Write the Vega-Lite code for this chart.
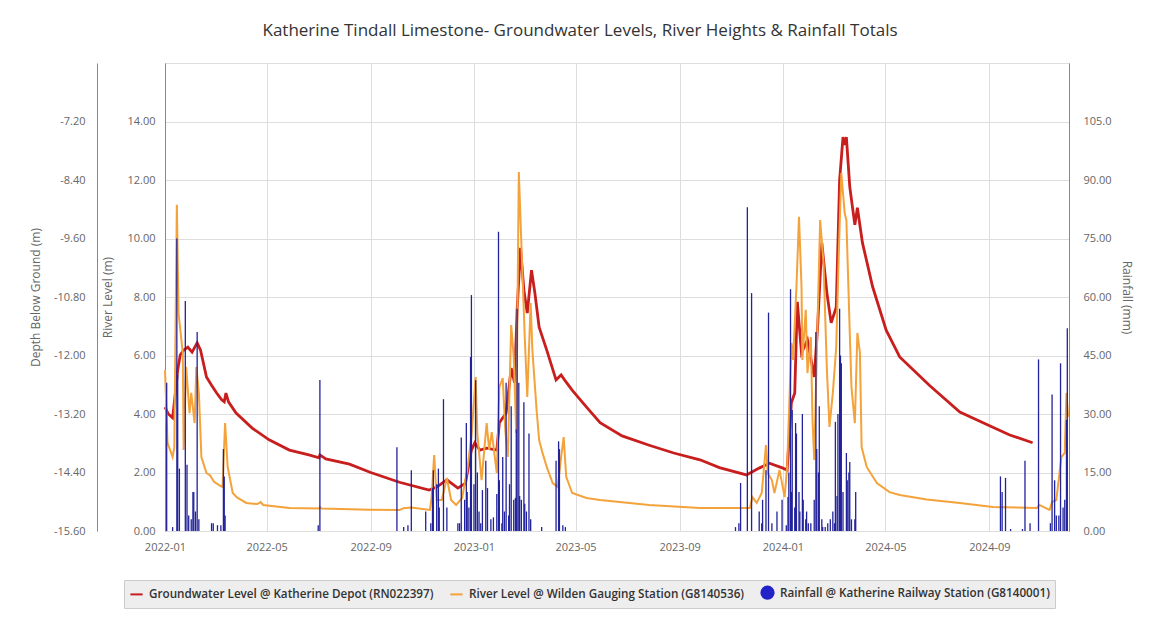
{
  "$schema": "https://vega.github.io/schema/vega-lite/v6.json",
  "width": 904,
  "height": 468,
  "autosize": {"type": "none"},
  "padding": {"left": 165, "top": 63, "right": 81, "bottom": 108},
  "background": "white",
  "title": {
    "text": "Katherine Tindall Limestone- Groundwater Levels, River Heights & Rainfall Totals",
    "font": "Open Sans", "fontSize": 17, "fontWeight": "normal", "color": "#333333",
    "anchor": "middle", "frame": "group", "dx": -37, "baseline": "bottom", "offset": 6
  },
  "config": {
    "font": "Open Sans",
    "view": {"stroke": "#dddddd"},
    "axis": {
      "labelFont": "Open Sans", "labelFontSize": 11, "labelColor": "#666666",
      "titleFont": "Open Sans", "titleFontSize": 12, "titleFontWeight": "normal", "titleColor": "#666666",
      "gridColor": "#dddddd", "domainColor": "#888888", "ticks": false, "tickSize": 0
    }
  },
  "datasets": {
    "groundwater": [
      {"date": "2022-01-01", "depth": -13.06}, {"date": "2022-01-05", "depth": -13.2}, {"date": "2022-01-10", "depth": -13.28},
      {"date": "2022-01-13", "depth": -12.81}, {"date": "2022-01-16", "depth": -12.3}, {"date": "2022-01-19", "depth": -11.99},
      {"date": "2022-01-23", "depth": -11.89}, {"date": "2022-01-28", "depth": -11.83}, {"date": "2022-02-02", "depth": -11.93},
      {"date": "2022-02-08", "depth": -11.74}, {"date": "2022-02-12", "depth": -11.89}, {"date": "2022-02-19", "depth": -12.44},
      {"date": "2022-02-25", "depth": -12.61}, {"date": "2022-03-03", "depth": -12.77}, {"date": "2022-03-09", "depth": -12.91},
      {"date": "2022-03-12", "depth": -12.95}, {"date": "2022-03-14", "depth": -12.77}, {"date": "2022-03-17", "depth": -12.95},
      {"date": "2022-03-26", "depth": -13.18}, {"date": "2022-04-14", "depth": -13.49}, {"date": "2022-05-04", "depth": -13.73},
      {"date": "2022-05-28", "depth": -13.94}, {"date": "2022-06-20", "depth": -14.04}, {"date": "2022-07-02", "depth": -14.1},
      {"date": "2022-07-03", "depth": -14.04}, {"date": "2022-07-10", "depth": -14.12}, {"date": "2022-08-07", "depth": -14.23},
      {"date": "2022-09-01", "depth": -14.4}, {"date": "2022-10-05", "depth": -14.6}, {"date": "2022-11-09", "depth": -14.76},
      {"date": "2022-11-18", "depth": -14.7}, {"date": "2022-11-30", "depth": -14.55}, {"date": "2022-12-13", "depth": -14.72},
      {"date": "2022-12-22", "depth": -14.62}, {"date": "2022-12-29", "depth": -13.94}, {"date": "2023-01-02", "depth": -13.79},
      {"date": "2023-01-08", "depth": -13.94}, {"date": "2023-01-16", "depth": -13.9}, {"date": "2023-01-28", "depth": -13.94},
      {"date": "2023-01-31", "depth": -13.38}, {"date": "2023-02-08", "depth": -13.18}, {"date": "2023-02-14", "depth": -12.26},
      {"date": "2023-02-18", "depth": -12.56}, {"date": "2023-02-21", "depth": -11.07}, {"date": "2023-02-25", "depth": -9.79},
      {"date": "2023-03-01", "depth": -10.66}, {"date": "2023-03-05", "depth": -11.13}, {"date": "2023-03-10", "depth": -10.25},
      {"date": "2023-03-14", "depth": -10.72}, {"date": "2023-03-19", "depth": -11.42}, {"date": "2023-03-28", "depth": -11.89},
      {"date": "2023-04-08", "depth": -12.5}, {"date": "2023-04-14", "depth": -12.4}, {"date": "2023-04-18", "depth": -12.5},
      {"date": "2023-04-27", "depth": -12.71}, {"date": "2023-05-14", "depth": -13.06}, {"date": "2023-05-30", "depth": -13.38},
      {"date": "2023-06-25", "depth": -13.65}, {"date": "2023-07-27", "depth": -13.84}, {"date": "2023-08-25", "depth": -14.0},
      {"date": "2023-09-25", "depth": -14.14}, {"date": "2023-10-18", "depth": -14.3}, {"date": "2023-11-19", "depth": -14.45},
      {"date": "2023-12-04", "depth": -14.31}, {"date": "2023-12-16", "depth": -14.21}, {"date": "2024-01-01", "depth": -14.31},
      {"date": "2024-01-06", "depth": -14.35}, {"date": "2024-01-11", "depth": -12.97}, {"date": "2024-01-15", "depth": -12.77},
      {"date": "2024-01-18", "depth": -10.9}, {"date": "2024-01-23", "depth": -11.95}, {"date": "2024-01-30", "depth": -11.68},
      {"date": "2024-02-07", "depth": -12.44}, {"date": "2024-02-11", "depth": -11.42}, {"date": "2024-02-16", "depth": -9.69},
      {"date": "2024-02-22", "depth": -10.72}, {"date": "2024-02-27", "depth": -11.33}, {"date": "2024-03-04", "depth": -11.01},
      {"date": "2024-03-08", "depth": -8.4}, {"date": "2024-03-12", "depth": -7.52}, {"date": "2024-03-14", "depth": -7.68},
      {"date": "2024-03-16", "depth": -7.52}, {"date": "2024-03-20", "depth": -8.54}, {"date": "2024-03-26", "depth": -9.32},
      {"date": "2024-03-29", "depth": -8.97}, {"date": "2024-04-04", "depth": -9.69}, {"date": "2024-04-16", "depth": -10.59},
      {"date": "2024-05-02", "depth": -11.48}, {"date": "2024-05-18", "depth": -12.03}, {"date": "2024-06-22", "depth": -12.61},
      {"date": "2024-07-28", "depth": -13.16}, {"date": "2024-09-05", "depth": -13.47}, {"date": "2024-09-25", "depth": -13.63},
      {"date": "2024-10-22", "depth": -13.79}
    ],
    "river": [
      {"date": "2022-01-01", "level": 5.5}, {"date": "2022-01-04", "level": 3.01}, {"date": "2022-01-10", "level": 2.53},
      {"date": "2022-01-12", "level": 2.87}, {"date": "2022-01-15", "level": 11.15}, {"date": "2022-01-17", "level": 7.45},
      {"date": "2022-01-22", "level": 6.09}, {"date": "2022-01-23", "level": 2.77}, {"date": "2022-01-26", "level": 5.61},
      {"date": "2022-01-30", "level": 4.03}, {"date": "2022-02-01", "level": 4.72}, {"date": "2022-02-05", "level": 3.69},
      {"date": "2022-02-07", "level": 5.61}, {"date": "2022-02-10", "level": 4.72}, {"date": "2022-02-13", "level": 2.53},
      {"date": "2022-02-19", "level": 1.98}, {"date": "2022-02-23", "level": 1.91}, {"date": "2022-02-28", "level": 1.68},
      {"date": "2022-03-06", "level": 1.57}, {"date": "2022-03-10", "level": 1.5}, {"date": "2022-03-13", "level": 3.69},
      {"date": "2022-03-16", "level": 2.19}, {"date": "2022-03-22", "level": 1.3}, {"date": "2022-03-27", "level": 1.15},
      {"date": "2022-04-07", "level": 0.96}, {"date": "2022-04-20", "level": 0.92}, {"date": "2022-04-24", "level": 0.99},
      {"date": "2022-04-27", "level": 0.89}, {"date": "2022-05-28", "level": 0.79}, {"date": "2022-07-02", "level": 0.77},
      {"date": "2022-07-03", "level": 0.82}, {"date": "2022-07-05", "level": 0.77}, {"date": "2022-08-31", "level": 0.73},
      {"date": "2022-10-05", "level": 0.72}, {"date": "2022-10-10", "level": 0.78}, {"date": "2022-10-19", "level": 0.8},
      {"date": "2022-11-10", "level": 0.72}, {"date": "2022-11-12", "level": 1.16}, {"date": "2022-11-15", "level": 2.6},
      {"date": "2022-11-18", "level": 1.06}, {"date": "2022-11-24", "level": 1.06}, {"date": "2022-11-30", "level": 1.81},
      {"date": "2022-12-05", "level": 1.06}, {"date": "2022-12-11", "level": 0.89}, {"date": "2022-12-18", "level": 1.13},
      {"date": "2022-12-24", "level": 2.09}, {"date": "2022-12-29", "level": 3.21}, {"date": "2023-01-03", "level": 5.26},
      {"date": "2023-01-05", "level": 3.35}, {"date": "2023-01-10", "level": 1.74}, {"date": "2023-01-16", "level": 3.69},
      {"date": "2023-01-19", "level": 2.77}, {"date": "2023-01-22", "level": 3.38}, {"date": "2023-01-28", "level": 1.98},
      {"date": "2023-01-31", "level": 4.92}, {"date": "2023-02-04", "level": 5.23}, {"date": "2023-02-07", "level": 3.45},
      {"date": "2023-02-10", "level": 2.53}, {"date": "2023-02-14", "level": 7.04}, {"date": "2023-02-17", "level": 5.95},
      {"date": "2023-02-20", "level": 3.35}, {"date": "2023-02-23", "level": 12.27}, {"date": "2023-02-26", "level": 9.85},
      {"date": "2023-03-02", "level": 6.63}, {"date": "2023-03-05", "level": 4.58}, {"date": "2023-03-09", "level": 7.79},
      {"date": "2023-03-11", "level": 6.19}, {"date": "2023-03-16", "level": 4.14}, {"date": "2023-03-19", "level": 3.11},
      {"date": "2023-03-23", "level": 2.67}, {"date": "2023-03-28", "level": 2.19}, {"date": "2023-04-04", "level": 1.64},
      {"date": "2023-04-10", "level": 1.5}, {"date": "2023-04-14", "level": 2.53}, {"date": "2023-04-17", "level": 3.21},
      {"date": "2023-04-20", "level": 1.85}, {"date": "2023-04-27", "level": 1.3}, {"date": "2023-05-14", "level": 1.13},
      {"date": "2023-05-30", "level": 1.06}, {"date": "2023-07-27", "level": 0.89}, {"date": "2023-09-25", "level": 0.79},
      {"date": "2023-11-23", "level": 0.79}, {"date": "2023-11-26", "level": 1.16}, {"date": "2023-12-01", "level": 0.96},
      {"date": "2023-12-07", "level": 1.3}, {"date": "2023-12-12", "level": 2.94}, {"date": "2023-12-14", "level": 1.98},
      {"date": "2023-12-19", "level": 1.74}, {"date": "2023-12-22", "level": 1.3}, {"date": "2023-12-28", "level": 2.09},
      {"date": "2024-01-03", "level": 1.16}, {"date": "2024-01-06", "level": 2.19}, {"date": "2024-01-11", "level": 6.43},
      {"date": "2024-01-13", "level": 5.85}, {"date": "2024-01-17", "level": 8.34}, {"date": "2024-01-20", "level": 10.74},
      {"date": "2024-01-23", "level": 8.34}, {"date": "2024-01-24", "level": 5.85}, {"date": "2024-01-28", "level": 7.56},
      {"date": "2024-01-30", "level": 5.4}, {"date": "2024-02-03", "level": 6.63}, {"date": "2024-02-05", "level": 3.79},
      {"date": "2024-02-07", "level": 2.43}, {"date": "2024-02-11", "level": 7.21}, {"date": "2024-02-14", "level": 10.63},
      {"date": "2024-02-18", "level": 9.16}, {"date": "2024-02-22", "level": 5.5}, {"date": "2024-02-25", "level": 3.56},
      {"date": "2024-02-29", "level": 4.72}, {"date": "2024-03-04", "level": 6.29}, {"date": "2024-03-07", "level": 9.5},
      {"date": "2024-03-10", "level": 12.24}, {"date": "2024-03-14", "level": 10.87}, {"date": "2024-03-16", "level": 10.63},
      {"date": "2024-03-20", "level": 6.77}, {"date": "2024-03-22", "level": 4.92}, {"date": "2024-03-26", "level": 3.69},
      {"date": "2024-03-29", "level": 6.77}, {"date": "2024-04-01", "level": 6.09}, {"date": "2024-04-03", "level": 2.87},
      {"date": "2024-04-09", "level": 2.19}, {"date": "2024-04-21", "level": 1.64}, {"date": "2024-05-06", "level": 1.33},
      {"date": "2024-05-18", "level": 1.23}, {"date": "2024-06-19", "level": 1.08}, {"date": "2024-07-28", "level": 0.96},
      {"date": "2024-09-05", "level": 0.82}, {"date": "2024-10-27", "level": 0.79}, {"date": "2024-10-30", "level": 0.89},
      {"date": "2024-11-11", "level": 0.72}, {"date": "2024-11-14", "level": 0.99}, {"date": "2024-11-19", "level": 1.06},
      {"date": "2024-11-20", "level": 1.3}, {"date": "2024-11-25", "level": 2.53}, {"date": "2024-11-29", "level": 2.67},
      {"date": "2024-12-01", "level": 4.72}, {"date": "2024-12-03", "level": 3.9}
    ],
    "rainfall": [
      {"date": "2022-01-03", "rain": 38}, {"date": "2022-01-10", "rain": 1}, {"date": "2022-01-15", "rain": 75},
      {"date": "2022-01-16", "rain": 40}, {"date": "2022-01-18", "rain": 16}, {"date": "2022-01-25", "rain": 59},
      {"date": "2022-01-27", "rain": 17}, {"date": "2022-01-29", "rain": 4}, {"date": "2022-02-01", "rain": 3},
      {"date": "2022-02-03", "rain": 10}, {"date": "2022-02-04", "rain": 10}, {"date": "2022-02-06", "rain": 5},
      {"date": "2022-02-08", "rain": 51}, {"date": "2022-02-10", "rain": 3}, {"date": "2022-02-25", "rain": 2},
      {"date": "2022-02-27", "rain": 2}, {"date": "2022-03-04", "rain": 1.5}, {"date": "2022-03-08", "rain": 1.5},
      {"date": "2022-03-11", "rain": 21}, {"date": "2022-03-12", "rain": 14}, {"date": "2022-03-13", "rain": 4},
      {"date": "2022-07-01", "rain": 1.5}, {"date": "2022-07-03", "rain": 38.7}, {"date": "2022-10-02", "rain": 21.5},
      {"date": "2022-10-10", "rain": 1}, {"date": "2022-10-15", "rain": 1.5}, {"date": "2022-10-19", "rain": 15.6},
      {"date": "2022-11-05", "rain": 5}, {"date": "2022-11-11", "rain": 2}, {"date": "2022-11-13", "rain": 11},
      {"date": "2022-11-14", "rain": 15.6}, {"date": "2022-11-18", "rain": 12}, {"date": "2022-11-20", "rain": 16},
      {"date": "2022-11-21", "rain": 6}, {"date": "2022-11-26", "rain": 33.8}, {"date": "2022-11-30", "rain": 6},
      {"date": "2022-12-13", "rain": 2}, {"date": "2022-12-15", "rain": 2}, {"date": "2022-12-17", "rain": 24},
      {"date": "2022-12-21", "rain": 8}, {"date": "2022-12-23", "rain": 27.7}, {"date": "2022-12-24", "rain": 10},
      {"date": "2022-12-26", "rain": 6}, {"date": "2022-12-28", "rain": 44.6}, {"date": "2022-12-29", "rain": 60.5},
      {"date": "2023-01-01", "rain": 12}, {"date": "2023-01-03", "rain": 38.7}, {"date": "2023-01-05", "rain": 15},
      {"date": "2023-01-07", "rain": 5}, {"date": "2023-01-09", "rain": 2}, {"date": "2023-01-11", "rain": 10.5},
      {"date": "2023-01-15", "rain": 18}, {"date": "2023-01-17", "rain": 11}, {"date": "2023-01-21", "rain": 3},
      {"date": "2023-01-24", "rain": 3.5}, {"date": "2023-01-28", "rain": 9.5}, {"date": "2023-01-30", "rain": 76.7},
      {"date": "2023-01-31", "rain": 13}, {"date": "2023-02-03", "rain": 2}, {"date": "2023-02-04", "rain": 19},
      {"date": "2023-02-06", "rain": 5}, {"date": "2023-02-08", "rain": 38}, {"date": "2023-02-11", "rain": 4},
      {"date": "2023-02-12", "rain": 12}, {"date": "2023-02-14", "rain": 32}, {"date": "2023-02-17", "rain": 8},
      {"date": "2023-02-19", "rain": 8.5}, {"date": "2023-02-20", "rain": 26}, {"date": "2023-02-21", "rain": 57},
      {"date": "2023-02-23", "rain": 38}, {"date": "2023-02-24", "rain": 9}, {"date": "2023-02-26", "rain": 8},
      {"date": "2023-03-01", "rain": 33}, {"date": "2023-03-02", "rain": 7}, {"date": "2023-03-04", "rain": 5},
      {"date": "2023-03-07", "rain": 25}, {"date": "2023-03-09", "rain": 3}, {"date": "2023-03-22", "rain": 1},
      {"date": "2023-04-08", "rain": 18}, {"date": "2023-04-11", "rain": 23}, {"date": "2023-04-12", "rain": 21},
      {"date": "2023-04-16", "rain": 1.5}, {"date": "2023-04-19", "rain": 1}, {"date": "2023-11-06", "rain": 1},
      {"date": "2023-11-10", "rain": 2}, {"date": "2023-11-12", "rain": 12.3}, {"date": "2023-11-20", "rain": 83},
      {"date": "2023-11-25", "rain": 61}, {"date": "2023-12-04", "rain": 5}, {"date": "2023-12-07", "rain": 2},
      {"date": "2023-12-08", "rain": 8}, {"date": "2023-12-12", "rain": 15.6}, {"date": "2023-12-15", "rain": 56},
      {"date": "2023-12-19", "rain": 2}, {"date": "2023-12-25", "rain": 5}, {"date": "2023-12-31", "rain": 8},
      {"date": "2024-01-05", "rain": 1.5}, {"date": "2024-01-07", "rain": 8.7}, {"date": "2024-01-08", "rain": 15},
      {"date": "2024-01-10", "rain": 62}, {"date": "2024-01-11", "rain": 10}, {"date": "2024-01-12", "rain": 31},
      {"date": "2024-01-15", "rain": 6}, {"date": "2024-01-16", "rain": 27.7}, {"date": "2024-01-17", "rain": 25},
      {"date": "2024-01-20", "rain": 10}, {"date": "2024-01-21", "rain": 5}, {"date": "2024-01-24", "rain": 30},
      {"date": "2024-01-25", "rain": 8}, {"date": "2024-01-28", "rain": 3}, {"date": "2024-01-29", "rain": 5},
      {"date": "2024-01-31", "rain": 2}, {"date": "2024-02-03", "rain": 2}, {"date": "2024-02-07", "rain": 8},
      {"date": "2024-02-09", "rain": 51}, {"date": "2024-02-10", "rain": 21}, {"date": "2024-02-12", "rain": 15},
      {"date": "2024-02-13", "rain": 32}, {"date": "2024-02-16", "rain": 3}, {"date": "2024-02-17", "rain": 1},
      {"date": "2024-02-20", "rain": 1}, {"date": "2024-02-23", "rain": 2}, {"date": "2024-02-26", "rain": 3},
      {"date": "2024-02-29", "rain": 5}, {"date": "2024-03-02", "rain": 2}, {"date": "2024-03-03", "rain": 28},
      {"date": "2024-03-05", "rain": 9}, {"date": "2024-03-06", "rain": 30}, {"date": "2024-03-08", "rain": 57},
      {"date": "2024-03-09", "rain": 45}, {"date": "2024-03-10", "rain": 43}, {"date": "2024-03-12", "rain": 10},
      {"date": "2024-03-16", "rain": 20}, {"date": "2024-03-17", "rain": 13}, {"date": "2024-03-19", "rain": 15},
      {"date": "2024-03-20", "rain": 17.7}, {"date": "2024-03-22", "rain": 3}, {"date": "2024-03-26", "rain": 3},
      {"date": "2024-03-27", "rain": 10}, {"date": "2024-09-14", "rain": 14}, {"date": "2024-09-16", "rain": 10},
      {"date": "2024-09-20", "rain": 13.6}, {"date": "2024-09-26", "rain": 0.5}, {"date": "2024-10-10", "rain": 0.5},
      {"date": "2024-10-13", "rain": 18}, {"date": "2024-10-19", "rain": 2}, {"date": "2024-10-29", "rain": 44},
      {"date": "2024-11-12", "rain": 2}, {"date": "2024-11-14", "rain": 35}, {"date": "2024-11-17", "rain": 13},
      {"date": "2024-11-19", "rain": 4}, {"date": "2024-11-22", "rain": 4}, {"date": "2024-11-24", "rain": 43},
      {"date": "2024-11-27", "rain": 6}, {"date": "2024-11-29", "rain": 8}, {"date": "2024-12-01", "rain": 28.5},
      {"date": "2024-12-02", "rain": 52}
    ],
    "legend": [
      {"series": "Groundwater Level @ Katherine Depot (RN022397)"},
      {"series": "River Level @ Wilden Gauging Station (G8140536)"},
      {"series": "Rainfall @ Katherine Railway Station (G8140001)"}
    ]
  },
  "layer": [
    {
      "data": {"name": "groundwater"},
      "mark": {"type": "line", "color": "#c81e1e", "strokeWidth": 2.8},
      "encoding": {
        "x": {
          "field": "date", "type": "temporal",
          "scale": {"type": "utc", "domain": [{"year": 2022, "month": 1, "date": 1, "utc": true}, {"year": 2024, "month": 12, "date": 4, "utc": true}]},
          "axis": {"title": null, "format": "%Y-%m", "tickCount": {"interval": "month", "step": 4}, "grid": true, "domain": false, "labelFlush": false, "labelPadding": 10, "labelOverlap": false}
        },
        "y": {
          "field": "depth", "type": "quantitative",
          "scale": {"domain": [-15.6, -6.0], "nice": false, "zero": false},
          "axis": {
            "orient": "left", "offset": 68, "title": "Depth Below Ground (m)",
            "values": [-15.6, -14.4, -13.2, -12.0, -10.8, -9.6, -8.4, -7.2],
            "labelExpr": "(datum.value < 0 ? '-' : '') + format(abs(datum.value), '.2f')",
            "grid": false, "labelPadding": 12, "titlePadding": 11
          }
        }
      }
    },
    {
      "data": {"name": "river"},
      "mark": {"type": "line", "color": "#f4a23a", "strokeWidth": 2},
      "encoding": {
        "x": {"field": "date", "type": "temporal"},
        "y": {
          "field": "level", "type": "quantitative",
          "scale": {"domain": [0, 16], "nice": false},
          "axis": {
            "orient": "left", "title": "River Level (m)",
            "values": [0, 2, 4, 6, 8, 10, 12, 14, 16],
            "labelExpr": "datum.value >= 16 ? '' : format(datum.value, '.2f')",
            "grid": true, "labelPadding": 10, "titlePadding": 12
          }
        }
      }
    },
    {
      "data": {"name": "rainfall"},
      "mark": {"type": "rule", "color": "#22229a", "strokeWidth": 1.3},
      "encoding": {
        "x": {"field": "date", "type": "temporal"},
        "y": {
          "field": "rain", "type": "quantitative",
          "scale": {"domain": [0, 120], "nice": false},
          "axis": {
            "orient": "right", "title": "Rainfall (mm)",
            "values": [0, 15, 30, 45, 60, 75, 90, 105],
            "labelExpr": "datum.value >= 100 ? format(datum.value, '.1f') : format(datum.value, '.2f')",
            "grid": false, "labelPadding": 14, "titlePadding": 8
          }
        },
        "y2": {"datum": 0}
      }
    },
    {
      "data": {"name": "legend"},
      "mark": {"type": "point", "opacity": 0, "filled": true},
      "encoding": {
        "fill": {
          "field": "series", "type": "nominal",
          "scale": {"domain": ["Groundwater Level @ Katherine Depot (RN022397)", "River Level @ Wilden Gauging Station (G8140536)", "Rainfall @ Katherine Railway Station (G8140001)"], "range": ["#c81e1e", "#f4a23a", "#2222c8"]},
          "legend": {"title": null, "orient": "none", "legendX": -41, "legendY": 517, "direction": "horizontal", "fillColor": "#eeeeee", "strokeColor": "#cccccc", "padding": 5, "labelFont": "Open Sans", "labelFontSize": 11.7, "labelFontWeight": 600, "labelColor": "#333333", "labelLimit": 400, "symbolSize": 150, "symbolStrokeWidth": 2, "columnPadding": 12, "labelOffset": 5, "symbolOpacity": 1}
        },
        "stroke": {
          "field": "series", "type": "nominal",
          "scale": {"domain": ["Groundwater Level @ Katherine Depot (RN022397)", "River Level @ Wilden Gauging Station (G8140536)", "Rainfall @ Katherine Railway Station (G8140001)"], "range": ["#c81e1e", "#f4a23a", "#2222c8"]},
          "legend": {"title": null, "orient": "none", "legendX": -41, "legendY": 517, "direction": "horizontal", "fillColor": "#eeeeee", "strokeColor": "#cccccc", "padding": 5, "labelFont": "Open Sans", "labelFontSize": 11.7, "labelFontWeight": 600, "labelColor": "#333333", "labelLimit": 400, "symbolSize": 150, "symbolStrokeWidth": 2, "columnPadding": 12, "labelOffset": 5, "symbolOpacity": 1}
        },
        "shape": {
          "field": "series", "type": "nominal",
          "scale": {"domain": ["Groundwater Level @ Katherine Depot (RN022397)", "River Level @ Wilden Gauging Station (G8140536)", "Rainfall @ Katherine Railway Station (G8140001)"], "range": ["stroke", "stroke", "circle"]},
          "legend": {"title": null, "orient": "none", "legendX": -41, "legendY": 517, "direction": "horizontal", "fillColor": "#eeeeee", "strokeColor": "#cccccc", "padding": 5, "labelFont": "Open Sans", "labelFontSize": 11.7, "labelFontWeight": 600, "labelColor": "#333333", "labelLimit": 400, "symbolSize": 150, "symbolStrokeWidth": 2, "columnPadding": 12, "labelOffset": 5, "symbolOpacity": 1}
        }
      }
    }
  ],
  "resolve": {"scale": {"y": "independent"}}
}
